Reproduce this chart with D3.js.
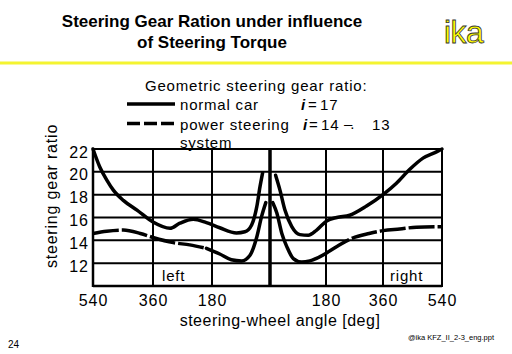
<!DOCTYPE html>
<html>
<head>
<meta charset="utf-8">
<script src="https://cdn.jsdelivr.net/npm/d3@7"></script>
<style>
  body { margin: 0; background: #fff; }
  svg { display: block; font-family: "Liberation Sans", Arial, sans-serif; }
</style>
</head>
<body>
<svg id="chart" width="512" height="354"></svg>
<script>
// angles: negative = left, positive = right (deg of steering wheel)
var normalLeftAngle = [-540, -520, -499, -479, -449, -408, -360, -308, -278, -237, -197, -156, -104, -78, -57, -41, -31, -23];
var normalLeftRatio = [22.0, 20.45, 19.3, 18.4, 17.5, 16.65, 15.6, 15.05, 15.5, 15.85, 15.55, 15.1, 14.65, 14.75, 15.35, 16.95, 18.7, 19.9];
var normalRightAngle = [18, 32, 48, 70, 96, 123, 150, 182, 214, 255, 308, 360, 401, 441, 482, 523, 540];
var normalRightRatio = [19.7, 18.4, 16.65, 15.2, 14.5, 14.45, 14.9, 15.7, 16.0, 16.2, 17.0, 18.0, 19.0, 20.2, 21.2, 21.75, 22.0];

var powerLeftAngle = [-540, -499, -449, -398, -360, -298, -248, -197, -156, -120, -88, -62, -41, -26, -13];
var powerLeftRatio = [14.6, 14.8, 14.9, 14.6, 14.25, 13.8, 13.6, 13.3, 12.8, 12.3, 12.2, 12.7, 14.3, 16.1, 17.3];
var powerRightAngle = [9, 22, 38, 54, 75, 102, 128, 182, 222, 264, 316, 360, 411, 462, 540];
var powerRightRatio = [17.3, 16.4, 14.6, 13.45, 12.4, 12.1, 12.2, 12.9, 13.6, 14.2, 14.6, 14.85, 15.0, 15.15, 15.2];

var xTicks = [-540, -360, -180, 180, 360, 540];
var xGrid = [-360, -180, 180, 360];
var yTicks = [12, 14, 16, 18, 20, 22];

var svg = d3.select("#chart");

var x = d3.scaleLinear()
    .domain([-540, -360, -180, 0, 180, 360, 540])
    .range([93, 153, 212, 270, 326, 383, 442]);
var y = d3.scaleLinear().domain([10, 22]).range([286, 149]);

// header
svg.append("text").attr("x", 212).attr("y", 27).attr("text-anchor", "middle")
    .attr("font-size", 17).attr("font-weight", "bold")
    .text("Steering Gear Ration under influence");
svg.append("text").attr("x", 212).attr("y", 48).attr("text-anchor", "middle")
    .attr("font-size", 17).attr("font-weight", "bold")
    .text("of Steering Torque");
svg.append("text").attr("x", 444).attr("y", 43)
    .attr("font-size", 32).attr("fill", "#ffff00").attr("stroke", "#333").attr("stroke-width", 0.8)
    .attr("letter-spacing", -0.5)
    .text("ika");
svg.append("rect").attr("x", 0).attr("y", 61.5).attr("width", 512).attr("height", 3).attr("fill", "#f4f430");

// legend
var lg = svg.append("g").attr("font-size", 15).attr("letter-spacing", 0.8);
lg.append("text").attr("x", 145).attr("y", 91).text("Geometric steering gear ratio:");
lg.append("line").attr("x1", 127).attr("x2", 175).attr("y1", 104).attr("y2", 104)
    .attr("stroke", "#000").attr("stroke-width", 3.5);
lg.append("line").attr("x1", 127).attr("x2", 175).attr("y1", 123.5).attr("y2", 123.5)
    .attr("stroke", "#000").attr("stroke-width", 3.5).attr("stroke-dasharray", "13,4");
lg.append("text").attr("x", 180).attr("y", 110).text("normal car");
lg.append("text").attr("x", 180).attr("y", 130).text("power steering");
lg.append("text").attr("x", 180).attr("y", 148).text("system");
lg.append("text").attr("x", 301).attr("y", 110).attr("font-weight", "bold").attr("font-style", "italic").text("i");
lg.append("text").attr("x", 308).attr("y", 110).text("=");
lg.append("text").attr("x", 320).attr("y", 110).text("17");
lg.append("text").attr("x", 303).attr("y", 130).attr("font-weight", "bold").attr("font-style", "italic").text("i");
lg.append("text").attr("x", 309).attr("y", 130).text("=");
lg.append("text").attr("x", 321).attr("y", 130).text("14");
lg.append("text").attr("x", 344).attr("y", 129).attr("letter-spacing", -2).text("–.");
lg.append("text").attr("x", 372).attr("y", 130).text("13");

// grid
var grid = svg.append("g").attr("stroke", "#000").attr("stroke-width", 2);
grid.selectAll(".hg").data(yTicks).enter().append("line")
    .attr("x1", x(-540)).attr("x2", x(540))
    .attr("y1", d => y(d)).attr("y2", d => y(d));
grid.selectAll(".vg").data(xGrid).enter().append("line")
    .attr("x1", d => x(d)).attr("x2", d => x(d))
    .attr("y1", y(22)).attr("y2", y(10));
grid.append("line").attr("x1", x(-540)).attr("x2", x(-540)).attr("y1", y(22)).attr("y2", y(10) + 1).attr("stroke-width", 2.5);
grid.append("line").attr("x1", x(540)).attr("x2", x(540)).attr("y1", y(22)).attr("y2", y(10) + 1);
grid.append("line").attr("x1", x(-540)).attr("x2", x(540)).attr("y1", y(10)).attr("y2", y(10)).attr("stroke-width", 2.5);
grid.append("line").attr("x1", x(0)).attr("x2", x(0)).attr("y1", y(22)).attr("y2", y(10)).attr("stroke-width", 3.5);

// axes
var xAxis = svg.append("g")
    .attr("transform", `translate(0,${y(10)})`)
    .call(d3.axisBottom(x).tickValues(xTicks).tickSize(0).tickFormat(d => Math.abs(d)));
xAxis.select(".domain").remove();
xAxis.selectAll("text").attr("y", 20).attr("dy", 0)
    .attr("font-size", 16).attr("letter-spacing", 1).attr("fill", "#000")
    .attr("font-family", "Liberation Sans, Arial, sans-serif");

var yAxis = svg.append("g")
    .attr("transform", `translate(89,0)`)
    .call(d3.axisLeft(y).tickValues(yTicks).tickSize(0).tickPadding(0));
yAxis.select(".domain").remove();
yAxis.selectAll("text").attr("dy", 0).attr("y", 8)
    .attr("font-size", 16).attr("letter-spacing", 1).attr("fill", "#000")
    .attr("font-family", "Liberation Sans, Arial, sans-serif");

svg.append("text").attr("x", 280).attr("y", 326).attr("text-anchor", "middle")
    .attr("font-size", 16).attr("letter-spacing", 0.5).text("steering-wheel angle [deg]");
svg.append("text").attr("transform", "translate(57,196) rotate(-90)").attr("text-anchor", "middle")
    .attr("font-size", 16).attr("letter-spacing", 0.8).text("steering gear ratio");

svg.append("text").attr("x", 162).attr("y", 281).attr("font-size", 15).attr("letter-spacing", 0.8).text("left");
svg.append("text").attr("x", 390).attr("y", 281).attr("font-size", 15).attr("letter-spacing", 0.8).text("right");

// curves
var line = d3.line().x(d => x(d[0])).y(d => y(d[1])).curve(d3.curveMonotoneX);
function pts(a, r) { return a.map((v, i) => [v, r[i]]); }

var curves = svg.append("g").attr("fill", "none").attr("stroke", "#000")
    .attr("stroke-width", 3.5).attr("stroke-linecap", "round");
curves.append("path").attr("d", line(pts(normalLeftAngle, normalLeftRatio)));
curves.append("path").attr("d", line(pts(normalRightAngle, normalRightRatio)));

var pl = pts(powerLeftAngle, powerLeftRatio), pr = pts(powerRightAngle, powerRightRatio);
curves.append("path").attr("d", line(pl.filter(d => d[0] <= -197))).attr("stroke-dasharray", "26,3").attr("stroke-linecap", "butt");
curves.append("path").attr("d", line(pl.filter(d => d[0] >= -197)));
curves.append("path").attr("d", line(pr.filter(d => d[0] <= 182)));
curves.append("path").attr("d", line(pr.filter(d => d[0] >= 182))).attr("stroke-dasharray", "26,3").attr("stroke-linecap", "butt");

// footer
svg.append("text").attr("x", 8).attr("y", 348).attr("font-size", 10).text("24");
svg.append("text").attr("x", 408).attr("y", 340).attr("font-size", 7.5).text("@ika KFZ_II_2-3_eng.ppt");
</script>
</body>
</html>
